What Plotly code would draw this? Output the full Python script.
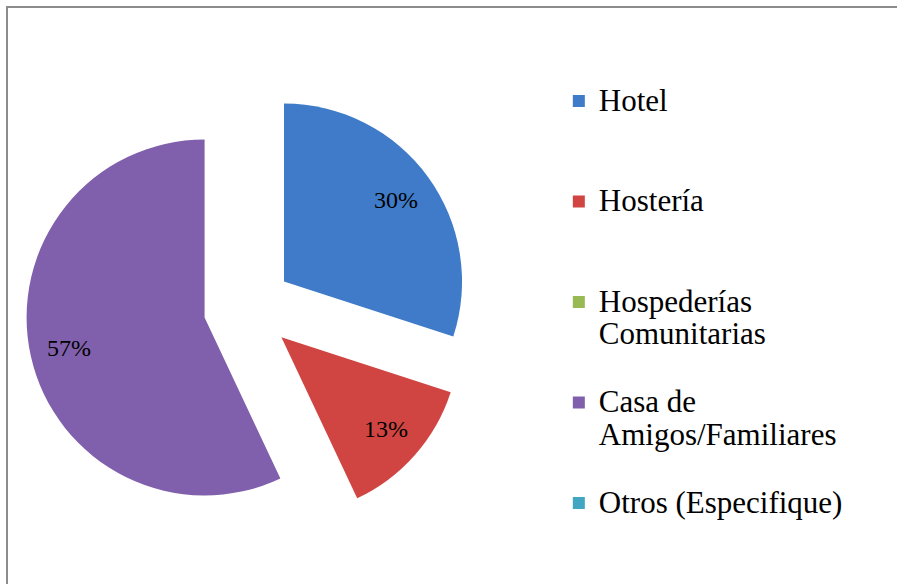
import math

import plotly.graph_objects as go

labels = [
    "Hotel",
    "Hostería",
    "Hospederías<br>Comunitarias",
    "Casa de<br>Amigos/Familiares",
    "Otros (Especifique)",
]
shares = [30, 13, 0, 57, 0]
colors = ["#3F7BC8", "#D04542", "#98B954", "#8060AC", "#40A6C2"]

SERIF = "Liberation Serif"
W, H = 897, 584
PULL = 0.25
DOM_X = [0.028, 0.525]
DOM_Y = [0.092, 0.854]

# each legend entry padded to three lines so the first lines sit ~100px apart
legend_text = []
for lab in labels:
    n = lab.count("<br>") + 1
    legend_text.append(
        "<span style='font-size:31px'>" + lab + "</span>" + "<br> " * (3 - n)
    )

fig = go.Figure(
    go.Pie(
        labels=legend_text,
        values=shares,
        sort=False,
        direction="clockwise",
        rotation=0,
        pull=[PULL] * len(shares),
        marker=dict(colors=colors, line=dict(width=0)),
        textinfo="none",
        hoverinfo="skip",
        domain=dict(x=DOM_X, y=DOM_Y),
    )
)

# percentage labels sit further out than plotly's inside text, as in Excel;
# place them on each slice's bisector using the same geometry plotly uses
box_w = W * (DOM_X[1] - DOM_X[0])
box_h = H * (DOM_Y[1] - DOM_Y[0])
r = min(box_w, box_h) / (2 + 2 * PULL)
cx = W * (DOM_X[0] + DOM_X[1]) / 2
cy = H * (1 - DOM_Y[0]) - box_h / 2
total = sum(shares)
start = 0.0
for v in shares:
    frac = v / total
    if v > 0:
        mid = 2 * math.pi * (start + frac / 2)
        dist = r * (PULL + 0.78)
        px = cx + dist * math.sin(mid)
        py = cy - dist * math.cos(mid)
        fig.add_annotation(
            x=px / W, y=1 - py / H, xref="paper", yref="paper",
            xanchor="center", yanchor="middle",
            text=f"{round(100 * frac)}%", showarrow=False,
            font=dict(family=SERIF, size=24, color="black"),
        )
    start += frac

fig.add_shape(
    type="rect", xref="paper", yref="paper",
    x0=7 / W, x1=1.05, y0=-0.05, y1=1 - 7 / H,
    line=dict(color="#8C8C8C", width=2),
)

fig.update_layout(
    width=W,
    height=H,
    margin=dict(l=0, r=0, t=0, b=0, autoexpand=False),
    paper_bgcolor="white",
    plot_bgcolor="white",
    font=dict(family=SERIF, color="black"),
    legend=dict(
        x=0.623, xanchor="left",
        y=0.866, yanchor="top",
        valign="top",
        font=dict(size=25, family=SERIF),
        bgcolor="rgba(0,0,0,0)",
    ),
)

fig.write_html(
    "out.html",
    config={"responsive": False, "displayModeBar": False},
    post_script="document.body.style.margin='0';",
)
